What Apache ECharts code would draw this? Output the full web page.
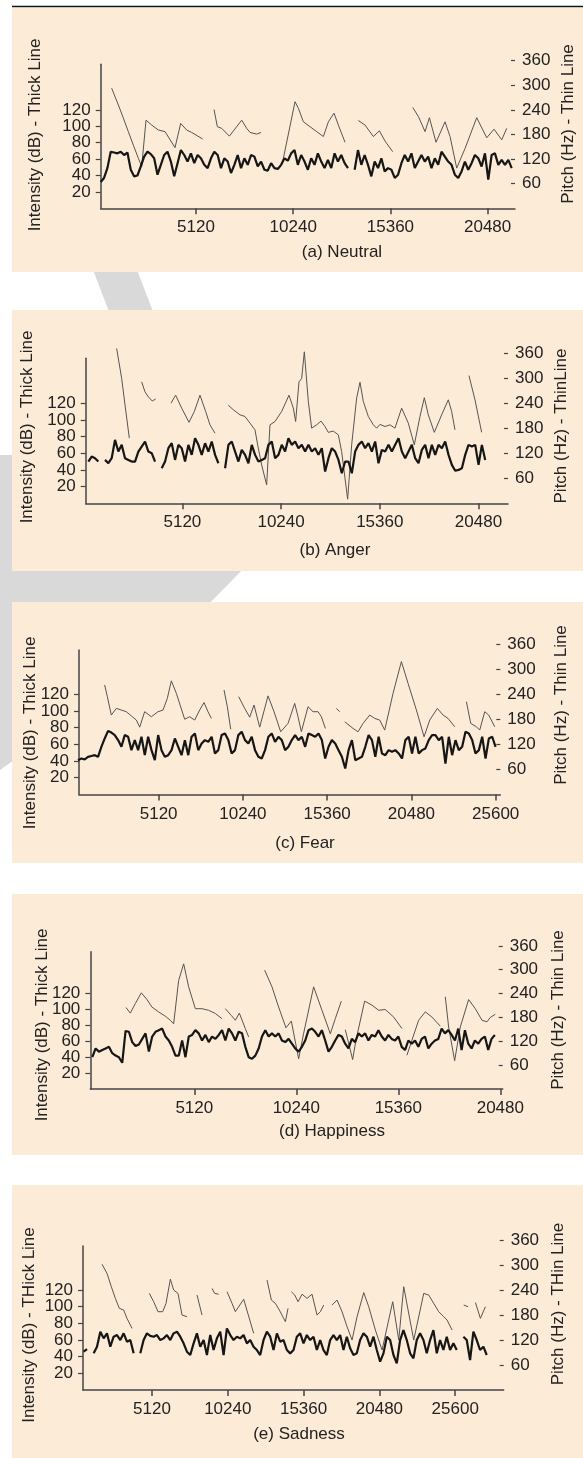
<!DOCTYPE html>
<html>
<head>
<meta charset="utf-8">
<script src="https://cdn.jsdelivr.net/npm/echarts@6/dist/echarts.min.js"></script>
<style>
  html, body { margin: 0; padding: 0; background: #fff; }
  #main { width: 583px; height: 1458px; }
</style>
</head>
<body>
<div id="main"></div>
<script>
// intensity (dB), sampled every `step` samples from `start`; null = gap
var neutralDb = [32,37,49,69,68,67,69,65,68,47, 39,40,51,63,69,66,61,41,53,65, 69,57,39,55,71,65,57,67,55,65,
  61,53,49,61,69,65,49,61,57,43, 53,65,49,61,53,65,63,51,57,47, 46,55,49,48,53,61,58,67,71,53,
  65,57,47,61,53,67,57,49,59,49, 67,57,65,55,49,null,47,71,53,65, 53,39,57,49,61,45,49,47,37,41,
  55,65,57,67,49,57,65,57,63,49, 61,53,69,63,57,53,41,37,45,57, 47,55,65,61,51,67,35,65,67,53, 59,53,59,49];
var angerDb = [50,56,54,50,null,52,48,54,76,62, 70,54,52,50,50,62,68,74,62,60, 50,null,42,50,66,72,52,70,66,50,
  70,58,78,70,58,72,62,74,58,48, null,42,70,74,62,50,64,58,48,70, 58,50,52,54,70,74,54,58,70,62,
  78,70,74,66,70,62,70,62,66,58, 66,38,54,66,62,52,36,50,50,36, 62,70,74,66,72,62,74,48,64,62,
  70,62,70,78,62,54,62,70,54,48, 64,70,54,70,58,70,66,74,58,46, 39,40,42,58,70,68,70,46,70,52];
var fearDb = [41,43,42,45,46,47,45,57,67,76, 74,71,65,57,71,69,53,65,53,69, 47,69,53,41,71,53,45,47,53,67,
  57,47,65,47,69,73,53,61,65,63, 69,49,53,71,73,65,49,53,71,75, 65,61,69,53,45,43,53,69,73,63,
  69,65,53,57,65,71,65,69,57,73, 71,69,73,65,43,57,65,61,53,45, 31,53,65,41,43,45,57,71,65,45,
  69,49,47,53,51,53,49,43,65,69, 49,69,49,53,55,65,71,71,65,69, 37,69,47,65,53,57,75,73,65,49, 53,69,43,67,69,57];
var happinessDb = [40,51,47,49,51,53,45,42,40,33, 73,72,59,54,56,63,70,47,66,72, 74,76,66,61,53,42,42,61,40,66,
  68,74,70,61,68,59,66,63,68,74, 61,76,70,61,72,70,53,40,38,42, 51,66,74,66,70,66,70,61,59,63,
  57,51,47,53,61,74,76,72,66,74, 61,47,53,61,68,66,57,51,63,59, 70,66,70,61,68,66,74,66,61,68,
  63,61,66,53,49,61,57,61,53,63, 66,51,57,61,63,76,70,74,68,61, 76,49,74,57,51,61,57,63,66,49, 63,68];
var sadnessDb = [46,49,null,44,52,70,62,68,52,64, 66,60,68,58,60,44,null,44,60,68, 65,64,66,60,62,66,60,68,70,64,
  56,46,42,56,68,52,60,42,66,48, 62,70,42,74,66,60,64,62,66,56, 60,52,48,42,60,70,64,48,68,58,
  60,48,44,48,64,68,56,66,60,64, 48,60,48,42,60,66,60,66,48,64, 50,42,44,60,68,64,52,64,48,34,
  44,64,60,42,32,60,72,60,44,38, 60,68,60,44,60,72,44,60,48,64, 48,56,48,null,64,60,36,70,60,48, 52,42];

// pitch (Hz) vertices: sample index / value, null = break between voiced parts
var neutralTime = [678,1030,1293,1556,1820,2083,2259,2487,2786,3137,3488,4015,4313,4629,4893,5472,null,
  6069,6245,6473,6877,7263,7527,7790,7966,8317,8545,null,
  9687,10336,10512,10775,11127,11478,11829,12092,12391,12619,12970,null,
  13673,14024,14463,14779,15077,15481,null,
  16535,16833,17185,17413,17764,18238,18502,18853,19292,19907,20434,20820,21224,21487];
var neutralHz = [293,252,220,187,154,122,102,215,203,191,187,148,207,191,185,169,null,
  241,199,195,176,199,215,195,185,181,185,null,
  114,260,244,211,199,187,175,211,232,203,161,null,
  214,203,175,189,164,138,null,
  246,224,187,221,161,211,175,98,146,221,172,193,167,195];

var angerTime = [1710,1970,2143,2367,null,
  3007,3180,3353,3560,3733,null,
  4529,4771,5082,5462,5739,6033,6327,6551,6811,null,
  7502,7762,8108,8367,8626,8886,9024,9231,9491,9664,9923,10269,10649,10874,10995,11168,11306,11445,
  11652,11825,12084,12309,12517,12689,12949,13208,13381,13692,13900,14159,14332,14505,14764,15024,
  15196,15369,15629,15888,16147,16493,16839,17150,17444,17669,17876,18188,18568,18914,19087,19260,null,
  19986,20297,20643];
var angerHz = [371,299,236,156,null,
  291,267,255,245,250,null,
  240,259,228,194,220,259,220,188,168,null,
  235,224,212,208,192,176,140,92,44,188,196,220,259,228,196,291,299,363,
  244,180,188,197,184,170,173,164,124,10,140,252,290,244,208,188,
  180,189,184,188,180,228,192,140,208,253,212,170,212,248,220,176,null,
  306,248,170];

var fearTime = [1840,2002,2245,2549,2853,3157,3460,3764,3967,4271,4676,5081,5385,5648,5892,6196,6702,7006,7310,7614,7877,8120,8323,null,
  9093,9295,9498,null,
  9984,10349,10653,10916,11261,11767,12132,12537,12983,13388,13590,13793,14198,14502,14806,15009,15252,null,
  15920,16123,null,
  16427,16933,17237,17541,17946,18250,18554,18858,19365,19871,20276,20783,21249,21593,22059,22404,22707,23113,null,
  23822,24085,24430,24632,24936,25179,25544];
var fearHz = [262,234,190,206,202,198,188,178,161,198,186,198,202,230,272,242,180,186,178,202,220,198,182,null,
  250,210,156,null,
  234,206,185,214,161,236,198,150,170,218,186,150,210,198,198,186,158,null,
  206,198,null,
  174,158,150,170,190,182,178,154,242,318,266,202,138,178,206,190,182,162,null,
  222,170,162,154,198,190,162];

var happinessTime = [1691,1909,2160,2461,2745,2996,3331,3666,3916,4084,4334,4586,4837,5171,5506,5840,6175,6510,null,
  6677,6978,7179,7380,7681,7848,null,
  8651,9019,9354,9722,9989,10358,10608,11110,11529,11947,12198,12499,null,
  12700,13068,13235,13670,14038,14373,14707,15126,15544,null,
  15794,16046,16380,16715,17050,17468,null,
  17719,17886,18187,18472,18890,19225,19559,19810,19977,20228];
var happinessHz = [205,191,215,242,225,206,194,183,173,164,273,315,257,202,202,198,190,177,null,
  202,185,173,191,152,131,null,
  299,257,206,154,171,76,140,257,198,139,177,221,null,
  149,74,123,221,211,198,200,181,152,null,
  85,123,173,194,181,158,null,
  232,156,71,156,225,202,173,169,180,188];

var sadnessTime = [1743,2081,2373,2644,2914,3207,3432,3770,null,
  4941,5233,5526,5841,6067,6359,6585,6877,7148,7485,null,
  8161,8499,null,
  9174,9355,9625,null,
  10188,10526,10751,11314,11989,null,
  12890,13183,13453,13723,14129,14309,null,
  14534,14759,14985,15255,15593,15930,16268,16493,16719,null,
  17282,17619,17957,18295,18633,18971,19421,19759,20209,20660,21380,21786,22123,22799,23475,23812,24150,24488,24826,25051,25389,null,
  26177,26470,null,
  26965,27303,27641];
var sadnessHz = [302,280,248,220,196,192,172,148,null,
  232,212,188,188,208,266,240,232,180,176,null,
  228,180,null,
  244,232,230,null,
  236,208,188,218,136,null,
  264,216,208,192,164,196,null,
  236,228,212,230,220,230,180,188,204,null,
  204,216,188,152,120,176,234,200,144,96,212,120,248,120,232,228,208,188,176,168,144,null,
  204,200,null,
  210,172,200];

var ticks20k = [5120, 10240, 15360, 20480];
var ticks25k = [5120, 10240, 15360, 20480, 25600];
var dbTicks = [20, 40, 60, 80, 100, 120];
var dbLabelsA = [20, 60, 100];
var dbLabelsB = [40, 80, 120];
var hzTicks = [60, 120, 180, 240, 300, 360];

var FONT = '"Liberation Sans", Arial, Helvetica, sans-serif';
var BG = '#fcebd6';
var INK = '#222';
var MARK = '#d9d9d9';

var panels = [
  { title: '(a) Neutral', db: neutralDb, start: 100, step: 176, time: neutralTime, hz: neutralHz, ticks: ticks20k,
    xMin: 100, xMax: 21923, dbMax: 175.6, box: [8, 272], g: [100.7, 515, 64.3, 208.3],
    titlePos: [342, 252], leftName: 'Intensity (dB) - Thick Line', leftPos: [35.5, 135],
    rightName: 'Pitch (Hz) - Thin Line', rightPos: [568, 124] },
  { title: '(b) Anger', db: angerDb, start: 241, step: 173, time: angerTime, hz: angerHz, ticks: ticks20k,
    xMin: 104, xMax: 22010, dbMax: 173.7, box: [310, 571], g: [85.7, 508, 358.3, 503.3],
    titlePos: [335, 550], leftName: 'Intensity (dB) - Thick Line', leftPos: [27, 427],
    rightName: 'Pitch (Hz) - ThinLine', rightPos: [561, 426] },
  { title: '(c) Fear', db: fearDb, start: 219, step: 203, time: fearTime, hz: fearHz, ticks: ticks25k,
    xMin: 280, xMax: 25882, dbMax: 172.9, box: [602, 863], g: [79, 500.3, 650, 794.4],
    titlePos: [305, 843], leftName: 'Intensity (dB) - Thick Line', leftPos: [30.7, 733],
    rightName: 'Pitch (Hz) - Thin Line', rightPos: [561, 705] },
  { title: '(d) Happiness', db: happinessDb, start: 0, step: 167, time: happinessTime, hz: happinessHz, ticks: ticks20k,
    xMin: -100, xMax: 20600, dbMax: 172.7, box: [894, 1155], g: [90.3, 502.7, 951.7, 1089],
    titlePos: [332, 1131], leftName: 'Intensity (dB) - Thick Line', leftPos: [42, 1025],
    rightName: 'Pitch (Hz) - Thin Line', rightPos: [558, 1010] },
  { title: '(e) Sadness', db: sadnessDb, start: 504, step: 225, time: sadnessTime, hz: sadnessHz, ticks: ticks25k,
    xMin: 459, xMax: 28876, dbMax: 172.9, box: [1185, 1458], g: [83, 503.7, 1246, 1390],
    titlePos: [299, 1434], leftName: 'Intensity (dB) - THick Line', leftPos: [29, 1325],
    rightName: 'Pitch (Hz) - THin Line', rightPos: [558, 1304] }
];

var chart = echarts.init(document.getElementById('main'));
var grid = [], xAxis = [], yAxis = [], series = [], graphic = [];

// faint grey watermark showing between the panels
graphic.push({ type: 'polygon', z: -20, silent: true,
  shape: { points: [[90, 262], [134, 262], [157, 322], [113, 322]] }, style: { fill: MARK } });
graphic.push({ type: 'polygon', z: -20, silent: true,
  shape: { points: [[0, 455], [14, 455], [14, 560], [252, 560], [198, 615], [14, 615], [14, 760], [0, 770]] },
  style: { fill: MARK } });

graphic.push({ type: 'line', z: -5, silent: true, shape: { x1: 12, y1: 6.5, x2: 583, y2: 6.5 },
  style: { stroke: '#111', lineWidth: 1.5 } });

function txt(s, pos, rot) {
  return { type: 'text', x: pos[0], y: pos[1], rotation: rot || 0, silent: true, z: 10,
    style: { text: s, fill: INK, font: '17px ' + FONT, align: 'center', verticalAlign: 'middle' } };
}
function plain(v) { return String(v); }
function labelStyle(values, margin) {
  return { customValues: values, formatter: plain, showMinLabel: true, showMaxLabel: true, hideOverlap: false,
    color: INK, fontSize: 17, fontFamily: FONT, margin: margin };
}

panels.forEach(function (p, i) {
  var L = p.g[0], R = p.g[1], T = p.g[2], B = p.g[3];
  var pxPerDb = (B - T) / p.dbMax;
  var hzH = 380 * pxPerDb / 2;

  graphic.push({ type: 'rect', z: -10, silent: true,
    shape: { x: 12, y: p.box[0], width: 571, height: p.box[1] - p.box[0] }, style: { fill: BG } });
  graphic.push(txt(p.title, p.titlePos));
  graphic.push(txt(p.leftName, p.leftPos, Math.PI / 2));
  graphic.push(txt(p.rightName, p.rightPos, Math.PI / 2));

  grid.push({ left: L, top: T, width: R - L, height: B - T });
  grid.push({ left: L, top: B - hzH, width: R - L, height: hzH });

  xAxis.push({ type: 'value', gridIndex: 2 * i, min: p.xMin, max: p.xMax,
    axisLine: { onZero: false, lineStyle: { color: '#444', width: 1.5 } },
    axisTick: { customValues: p.ticks, length: 6, lineStyle: { color: '#444', width: 1.5 } },
    axisLabel: labelStyle(p.ticks, 11),
    splitLine: { show: false } });
  xAxis.push({ type: 'value', gridIndex: 2 * i + 1, min: p.xMin, max: p.xMax, show: false,
    axisLine: { onZero: false } });

  // the dB labels sit closer than their own height, so they are split over two
  // left axes; otherwise ECharts drops every other one
  yAxis.push({ type: 'value', gridIndex: 2 * i, position: 'left', min: 0, max: p.dbMax,
    axisLine: { show: true, onZero: false, lineStyle: { color: '#444', width: 1.5 } },
    axisTick: { show: true, customValues: dbTicks, length: 5, lineStyle: { color: '#444', width: 1.2 } },
    axisLabel: labelStyle(dbLabelsA, 10),
    splitLine: { show: false } });
  yAxis.push({ type: 'value', gridIndex: 2 * i, position: 'left', offset: 0, min: 0, max: p.dbMax,
    axisLine: { show: false, onZero: false }, axisTick: { show: false },
    axisLabel: labelStyle(dbLabelsB, 10),
    splitLine: { show: false } });
  yAxis.push({ type: 'value', gridIndex: 2 * i + 1, position: 'right', min: 0, max: 380,
    axisLine: { show: false, onZero: false },
    axisTick: { show: true, inside: true, customValues: hzTicks, length: 4, lineStyle: { color: '#444', width: 1.2 } },
    axisLabel: labelStyle(hzTicks, 7),
    splitLine: { show: false } });

  series.push({ type: 'line', xAxisIndex: 2 * i, yAxisIndex: 3 * i, symbol: 'none', z: 4,
    lineStyle: { color: '#161616', width: 2.2 },
    data: p.db.map(function (v, k) { return [p.start + k * p.step, v == null ? '-' : v]; }) });
  series.push({ type: 'line', xAxisIndex: 2 * i + 1, yAxisIndex: 3 * i + 2, symbol: 'none', z: 3,
    lineStyle: { color: '#555', width: 1 },
    data: p.hz.map(function (v, k) {
      return v == null ? [p.time[k - 1], '-'] : [p.time[k], v];
    }) });
});

chart.setOption({
  animation: false,
  backgroundColor: '#fff',
  grid: grid, xAxis: xAxis, yAxis: yAxis, series: series, graphic: graphic
});
window.addEventListener('resize', function () { chart.resize(); });
</script>
</body>
</html>
